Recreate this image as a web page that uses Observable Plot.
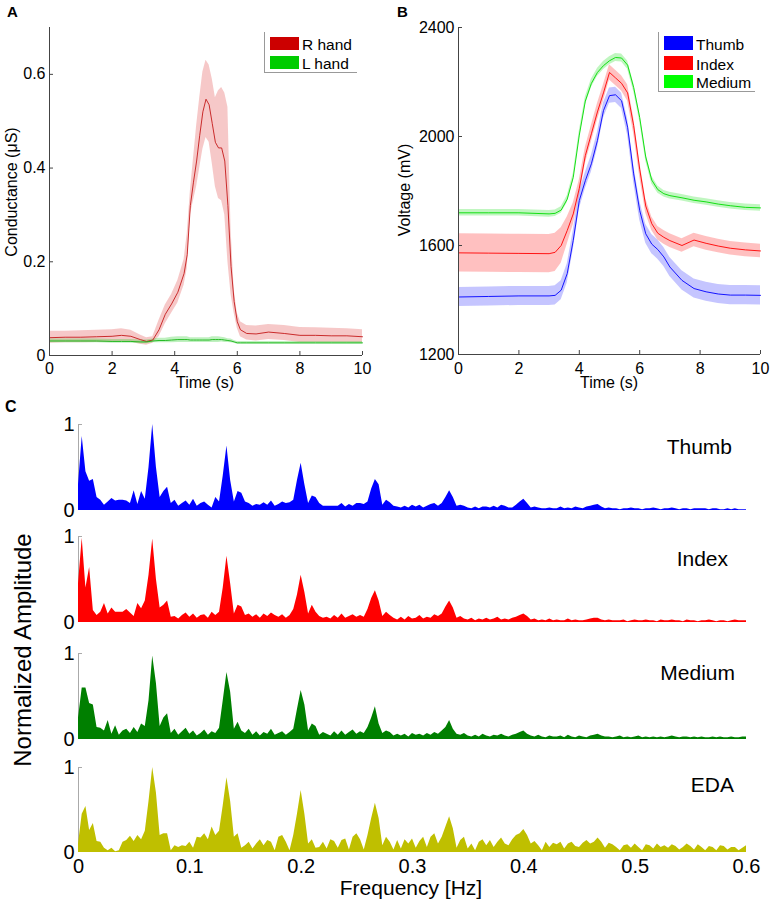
<!DOCTYPE html>
<html>
<head>
<meta charset="utf-8">
<script src="https://cdn.jsdelivr.net/npm/d3@7"></script>
<script src="https://cdn.jsdelivr.net/npm/@observablehq/plot@0.6"></script>
<style>
  body { margin: 0; background: #fff; }
  #root { position: relative; width: 773px; height: 911px; background: #fff; overflow: hidden;
          font-family: "Liberation Sans", Arial, Helvetica, sans-serif; color: #000; }
</style>
</head>
<body>
<div id="root"></div>
<script>
// ---------------- Panel A: skin conductance (mean and spread) ----------------
const timeA = [0,0.5,1,1.5,2,2.3,2.6,2.9,3.1,3.3,3.5,3.7,3.9,4.1,4.3,4.4,4.5,4.6,4.7,4.8,4.9,5.0,5.1,5.2,5.3,5.4,5.5,5.6,5.7,5.8,5.9,6.0,6.1,6.3,6.6,7.0,7.5,8,8.5,9,9.5,10];
const rHandMean = [0.038,0.039,0.039,0.040,0.041,0.043,0.041,0.034,0.030,0.033,0.055,0.088,0.110,0.135,0.175,0.215,0.320,0.370,0.415,0.470,0.520,0.547,0.535,0.495,0.455,0.443,0.443,0.415,0.320,0.190,0.115,0.072,0.055,0.047,0.046,0.050,0.047,0.043,0.043,0.042,0.042,0.040];
const rHandHigh = [0.052,0.052,0.053,0.054,0.055,0.057,0.054,0.044,0.038,0.040,0.075,0.108,0.130,0.160,0.205,0.260,0.350,0.420,0.490,0.550,0.605,0.630,0.620,0.590,0.550,0.565,0.572,0.560,0.530,0.270,0.140,0.090,0.072,0.064,0.063,0.066,0.064,0.060,0.059,0.058,0.057,0.055];
const rHandLow  = [0.026,0.027,0.027,0.028,0.029,0.030,0.029,0.024,0.022,0.026,0.040,0.068,0.090,0.112,0.150,0.185,0.300,0.330,0.360,0.400,0.440,0.465,0.455,0.410,0.360,0.335,0.330,0.300,0.200,0.130,0.090,0.058,0.040,0.033,0.031,0.034,0.032,0.028,0.028,0.028,0.028,0.027];
const lHandMean = [0.031,0.031,0.031,0.031,0.030,0.030,0.030,0.029,0.029,0.031,0.032,0.032,0.033,0.034,0.034,0.034,0.033,0.033,0.033,0.033,0.033,0.033,0.033,0.034,0.034,0.034,0.034,0.033,0.032,0.031,0.029,0.027,0.027,0.027,0.027,0.027,0.027,0.027,0.027,0.027,0.027,0.027];
const lHandSpread = [0.004,0.004,0.004,0.004,0.004,0.004,0.004,0.004,0.004,0.004,0.005,0.005,0.006,0.006,0.006,0.006,0.005,0.005,0.005,0.005,0.005,0.005,0.005,0.006,0.006,0.006,0.005,0.005,0.004,0.004,0.003,0.003,0.003,0.003,0.003,0.003,0.003,0.003,0.003,0.003,0.003,0.003];
const ticksAx = [0,2,4,6,8,10];
const ticksAy = [0,0.2,0.4,0.6];

// ---------------- Panel B: finger voltages ----------------
const timeB = [0,1,2,3,3.2,3.4,3.6,3.8,4.0,4.2,4.4,4.6,4.8,5.0,5.2,5.4,5.6,5.8,6.0,6.2,6.4,6.6,6.8,7.0,7.4,7.8,8.2,8.6,9,9.5,10];
const thumbMean  = [1411,1413,1415,1415,1417,1436,1497,1619,1765,1838,1900,1985,2095,2150,2153,2131,2034,1863,1729,1643,1605,1585,1558,1521,1472,1442,1430,1422,1418,1418,1417];
const thumbSd    = [35,35,35,35,35,35,35,35,32,30,30,30,28,28,28,28,30,32,35,35,35,35,35,35,35,35,35,35,35,35,35];
const indexMean  = [1573,1572,1571,1570,1575,1600,1655,1716,1810,1930,2010,2090,2160,2235,2215,2195,2160,2040,1880,1745,1680,1645,1630,1618,1600,1620,1608,1598,1590,1584,1580];
const indexSd    = [70,70,70,70,70,65,50,40,30,30,30,30,30,28,28,28,30,30,28,27,25,25,25,25,25,25,25,25,25,25,25];
const mediumMean = [1720,1720,1720,1716,1718,1730,1770,1850,2005,2130,2195,2235,2260,2278,2290,2288,2262,2180,2070,1925,1840,1805,1790,1783,1775,1766,1760,1752,1746,1740,1738];
const mediumSd   = [12,12,12,12,12,12,13,14,15,15,15,15,15,15,15,15,15,15,15,15,14,13,12,12,12,12,12,12,12,12,12];
const ticksBx = [0,2,4,6,8,10];
const ticksBy = [1200,1600,2000,2400];

// ---------------- Panel C: normalized spectra (sampled every 1/300 Hz) ----------------
const freqStep = 1/300;
const specThumb = [
 0.30,0.86,0.45,0.34,0.36,0.15,0.12,0.06,0.10,0.14,0.11,0.12,0.12,0.11,0.08,0.23,0.07,0.22,0.13,0.50,
 1.00,0.50,0.15,0.22,0.27,0.08,0.12,0.05,0.08,0.11,0.06,0.13,0.05,0.08,0.10,0.06,0.03,0.15,0.10,0.40,
 0.75,0.35,0.10,0.22,0.20,0.10,0.08,0.05,0.07,0.06,0.09,0.06,0.11,0.05,0.07,0.10,0.08,0.09,0.12,0.35,
 0.55,0.30,0.08,0.17,0.15,0.08,0.05,0.05,0.05,0.05,0.05,0.08,0.04,0.07,0.05,0.08,0.08,0.07,0.10,0.25,
 0.36,0.30,0.06,0.12,0.09,0.05,0.04,0.03,0.05,0.03,0.06,0.04,0.06,0.03,0.05,0.07,0.08,0.05,0.08,0.15,
 0.23,0.15,0.05,0.06,0.05,0.03,0.02,0.04,0.02,0.04,0.04,0.03,0.05,0.03,0.06,0.05,0.03,0.03,0.06,0.10,
 0.13,0.08,0.03,0.04,0.03,0.02,0.02,0.03,0.02,0.02,0.04,0.02,0.03,0.02,0.04,0.03,0.02,0.04,0.05,0.06,
 0.07,0.04,0.02,0.03,0.02,0.02,0.01,0.02,0.02,0.03,0.02,0.02,0.01,0.02,0.02,0.03,0.02,0.01,0.02,0.02,
 0.03,0.02,0.01,0.02,0.02,0.01,0.02,0.02,0.02,0.02,0.01,0.02,0.02,0.01,0.01,0.02,0.01,0.02,0.01,0.01,
 0.01];
const specIndex = [
 0.45,0.98,0.40,0.64,0.14,0.08,0.12,0.22,0.10,0.17,0.12,0.12,0.12,0.15,0.11,0.07,0.22,0.16,0.25,0.55,
 0.97,0.50,0.17,0.20,0.25,0.06,0.07,0.04,0.08,0.11,0.06,0.10,0.05,0.08,0.09,0.05,0.12,0.08,0.12,0.40,
 0.77,0.45,0.10,0.20,0.18,0.08,0.10,0.06,0.09,0.05,0.10,0.07,0.11,0.08,0.06,0.09,0.05,0.08,0.15,0.32,
 0.55,0.35,0.10,0.20,0.12,0.07,0.05,0.06,0.04,0.08,0.05,0.10,0.05,0.07,0.09,0.06,0.08,0.06,0.15,0.28,
 0.37,0.25,0.07,0.12,0.08,0.05,0.03,0.06,0.03,0.07,0.04,0.05,0.08,0.04,0.06,0.05,0.09,0.07,0.10,0.18,
 0.25,0.17,0.05,0.07,0.04,0.03,0.05,0.02,0.04,0.03,0.05,0.03,0.04,0.06,0.03,0.04,0.03,0.05,0.06,0.08,
 0.10,0.07,0.03,0.04,0.02,0.03,0.02,0.04,0.02,0.03,0.02,0.02,0.04,0.02,0.03,0.02,0.02,0.03,0.04,0.05,
 0.05,0.03,0.02,0.03,0.02,0.02,0.02,0.03,0.01,0.02,0.03,0.02,0.02,0.03,0.02,0.02,0.01,0.03,0.02,0.02,
 0.03,0.02,0.02,0.01,0.03,0.02,0.02,0.01,0.02,0.02,0.03,0.02,0.01,0.02,0.02,0.01,0.02,0.03,0.02,0.02,
 0.02];
const specMedium = [
 0.25,0.60,0.60,0.42,0.40,0.14,0.13,0.10,0.22,0.06,0.16,0.05,0.10,0.12,0.07,0.14,0.08,0.18,0.15,0.45,
 0.97,0.65,0.15,0.25,0.30,0.07,0.12,0.05,0.09,0.13,0.06,0.10,0.04,0.07,0.11,0.05,0.09,0.07,0.13,0.45,
 0.78,0.55,0.12,0.20,0.10,0.07,0.12,0.05,0.09,0.04,0.08,0.06,0.12,0.05,0.07,0.09,0.05,0.08,0.12,0.35,
 0.57,0.40,0.10,0.18,0.15,0.05,0.08,0.06,0.04,0.09,0.05,0.10,0.05,0.08,0.11,0.06,0.09,0.07,0.14,0.25,
 0.38,0.18,0.07,0.10,0.08,0.04,0.06,0.04,0.06,0.03,0.07,0.05,0.06,0.04,0.07,0.05,0.08,0.06,0.10,0.14,
 0.22,0.12,0.06,0.05,0.07,0.04,0.03,0.05,0.03,0.06,0.04,0.03,0.05,0.04,0.06,0.04,0.03,0.05,0.06,0.08,
 0.10,0.06,0.04,0.03,0.05,0.03,0.02,0.04,0.03,0.03,0.04,0.02,0.05,0.03,0.02,0.04,0.03,0.02,0.04,0.05,
 0.06,0.04,0.03,0.03,0.02,0.03,0.04,0.02,0.03,0.02,0.03,0.04,0.02,0.03,0.02,0.03,0.02,0.03,0.02,0.03,
 0.04,0.03,0.02,0.03,0.03,0.02,0.03,0.02,0.03,0.02,0.02,0.03,0.02,0.03,0.02,0.02,0.03,0.02,0.02,0.03,
 0.03];
const specEDA = [
 0.10,0.45,0.54,0.26,0.34,0.13,0.12,0.05,0.02,0.05,0.01,0.02,0.12,0.14,0.19,0.13,0.20,0.15,0.25,0.60,
 1.00,0.70,0.20,0.22,0.22,0.02,0.08,0.06,0.08,0.07,0.12,0.05,0.18,0.17,0.22,0.15,0.30,0.20,0.25,0.55,
 0.88,0.60,0.18,0.22,0.05,0.08,0.12,0.04,0.10,0.15,0.08,0.14,0.12,0.02,0.18,0.20,0.12,0.02,0.20,0.45,
 0.73,0.45,0.10,0.15,0.05,0.06,0.12,0.04,0.15,0.13,0.05,0.14,0.16,0.03,0.18,0.22,0.15,0.03,0.20,0.40,
 0.58,0.40,0.08,0.18,0.12,0.03,0.14,0.04,0.15,0.10,0.16,0.05,0.13,0.18,0.06,0.18,0.22,0.10,0.18,0.30,
 0.42,0.28,0.05,0.14,0.18,0.04,0.10,0.02,0.12,0.15,0.08,0.14,0.06,0.12,0.17,0.10,0.08,0.15,0.20,0.22,
 0.27,0.20,0.10,0.13,0.08,0.02,0.12,0.06,0.11,0.09,0.12,0.04,0.10,0.12,0.07,0.06,0.11,0.14,0.10,0.12,
 0.17,0.12,0.05,0.11,0.09,0.06,0.02,0.08,0.09,0.05,0.10,0.06,0.02,0.09,0.08,0.04,0.10,0.06,0.08,0.05,
 0.09,0.07,0.03,0.06,0.10,0.07,0.03,0.09,0.06,0.02,0.07,0.06,0.02,0.08,0.07,0.03,0.06,0.06,0.02,0.05,
 0.08];
const ticksCx = [0,0.1,0.2,0.3,0.4,0.5,0.6];
const ticksCy = [0,1];

// ---------------- layout ----------------
const root = document.getElementById("root");
const FONT = '"Liberation Sans", Arial, Helvetica, sans-serif';
function place(node, left, top) {
  node.style.position = "absolute";
  node.style.left = left + "px";
  node.style.top = top + "px";
  root.appendChild(node);
}
const fmt = v => String(v);

// Panel A
{
  const w = 380, h = 390, ml = 49, mr = 18, mt = 27, mb = 35;
  const fw = w - ml - mr, fh = h - mt - mb;
  const d = timeA.map((t, i) => ({
    t, rm: rHandMean[i], rlo: rHandLow[i], rhi: rHandHigh[i],
    lm: lHandMean[i], llo: lHandMean[i] - lHandSpread[i], lhi: lHandMean[i] + lHandSpread[i]
  }));
  const p = Plot.plot({
    width: w, height: h, marginLeft: ml, marginRight: mr, marginTop: mt, marginBottom: mb,
    style: {fontFamily: FONT, fontSize: "16px", color: "#000", background: "transparent", overflow: "visible"},
    x: {domain: [0, 10]},
    y: {domain: [0, 0.7]},
    marks: [
      Plot.areaY(d, {x: "t", y1: "rlo", y2: "rhi", fill: "#e03a3a", fillOpacity: 0.28}),
      Plot.areaY(d, {x: "t", y1: "llo", y2: "lhi", fill: "#38d038", fillOpacity: 0.32}),
      Plot.lineY(d, {x: "t", y: "rm", stroke: "#c41a1a", strokeWidth: 0.9}),
      Plot.lineY(d, {x: "t", y: "lm", stroke: "#14b414", strokeWidth: 0.9}),
      Plot.ruleX([0], {stroke: "#444"}),
      Plot.ruleY([0], {stroke: "#444"}),
      Plot.gridX({ticks: ticksAx, stroke: "#444", strokeOpacity: 1, insetTop: fh - 4}),
      Plot.gridY({ticks: ticksAy, stroke: "#444", strokeOpacity: 1, insetRight: fw - 4}),
      Plot.axisX({ticks: ticksAx, tickSize: 0, tickPadding: 7, label: null, tickFormat: fmt}),
      Plot.axisY({ticks: ticksAy, tickSize: 0, tickPadding: 4, label: null, tickFormat: fmt})
    ]
  });
  place(p, 0, 0);
}

// Panel B
{
  const w = 393, h = 390, ml = 78, mr = 13, mt = 27, mb = 36;
  const fw = w - ml - mr, fh = h - mt - mb;
  const series = [
    {name: "Thumb", mean: thumbMean, sd: thumbSd, band: "#4040ff", line: "#0000ff"},
    {name: "Index", mean: indexMean, sd: indexSd, band: "#ff3030", line: "#ff0000"},
    {name: "Medium", mean: mediumMean, sd: mediumSd, band: "#30e030", line: "#00dd00"}
  ];
  const rows = series.flatMap(s => timeB.map((t, i) => ({
    name: s.name, t, m: s.mean[i], lo: s.mean[i] - s.sd[i], hi: s.mean[i] + s.sd[i]
  })));
  const marks = [];
  for (const s of series) {
    const d = rows.filter(r => r.name === s.name);
    marks.push(Plot.areaY(d, {x: "t", y1: "lo", y2: "hi", fill: s.band, fillOpacity: 0.3}));
  }
  for (const s of series) {
    const d = rows.filter(r => r.name === s.name);
    marks.push(Plot.lineY(d, {x: "t", y: "m", stroke: s.line, strokeWidth: 0.9}));
  }
  const p = Plot.plot({
    width: w, height: h, marginLeft: ml, marginRight: mr, marginTop: mt, marginBottom: mb,
    style: {fontFamily: FONT, fontSize: "16px", color: "#000", background: "transparent", overflow: "visible"},
    x: {domain: [0, 10]},
    y: {domain: [1200, 2400]},
    marks: [
      ...marks,
      Plot.ruleX([0], {stroke: "#444"}),
      Plot.ruleY([1200], {stroke: "#444"}),
      Plot.gridX({ticks: ticksBx, stroke: "#444", strokeOpacity: 1, insetTop: fh - 4}),
      Plot.gridY({ticks: ticksBy, stroke: "#444", strokeOpacity: 1, insetRight: fw - 4}),
      Plot.axisX({ticks: ticksBx, tickSize: 0, tickPadding: 8, label: null, tickFormat: fmt}),
      Plot.axisY({ticks: ticksBy, tickSize: 0, tickPadding: 4, label: null, tickFormat: fmt})
    ]
  });
  place(p, 380, 0);
}

// Panel C
const specPanels = [
  {name: "Thumb",  values: specThumb,  color: "#0000ff", top: 424, bottom: 510, labelX: 732, labelY: 454},
  {name: "Index",  values: specIndex,  color: "#ff0000", top: 536, bottom: 622, labelX: 728, labelY: 566},
  {name: "Medium", values: specMedium, color: "#007f00", top: 653, bottom: 739, labelX: 735, labelY: 680},
  {name: "EDA",    values: specEDA,    color: "#bfbf00", top: 767, bottom: 852, labelX: 734, labelY: 792}
];
specPanels.forEach((s, k) => {
  const last = k === specPanels.length - 1;
  const ml = 78, mr = 27, mt = 12, mb = last ? 34 : 12;
  const fh = s.bottom - s.top;
  const fw = 773 - ml - mr;
  const d = s.values.map((v, i) => ({f: i * freqStep, v}));
  const marks = [
    Plot.ruleX([0], {y1: 0, y2: 1, stroke: "#aaa"}),
    Plot.gridY({ticks: [1], stroke: "#aaa", strokeOpacity: 1, insetRight: fw - 4}),
    Plot.areaY(d, {x: "f", y: "v", fill: s.color}),
    Plot.axisY({ticks: ticksCy, tickSize: 0, tickPadding: 4, label: null, tickFormat: fmt})
  ];
  if (last) marks.push(Plot.axisX({ticks: ticksCx, tickSize: 0, tickPadding: 6, label: null, tickFormat: fmt}));
  const p = Plot.plot({
    width: 773, height: fh + mt + mb, marginLeft: ml, marginRight: mr, marginTop: mt, marginBottom: mb,
    style: {fontFamily: FONT, fontSize: "20px", color: "#000", background: "transparent", overflow: "visible"},
    x: {domain: [0, 0.6], axis: last ? undefined : null},
    y: {domain: [0, 1]},
    marks
  });
  place(p, 0, s.top - mt);
});

// ---------------- text overlay: panel letters, axis titles, legends ----------------
const ov = d3.create("svg").attr("width", 773).attr("height", 911)
  .style("position", "absolute").style("left", "0px").style("top", "0px")
  .style("pointer-events", "none").style("font-family", FONT);

function txt(x, y, s, size, opts = {}) {
  const t = ov.append("text").attr("x", x).attr("y", y).attr("font-size", size).attr("fill", "#000").text(s);
  if (opts.anchor) t.attr("text-anchor", opts.anchor);
  if (opts.bold) t.attr("font-weight", "bold");
  if (opts.rotate) t.attr("transform", `rotate(-90 ${x} ${y})`);
  return t;
}

txt(7, 17, "A", 15, {bold: true});
txt(397, 17, "B", 15, {bold: true});
txt(5, 412, "C", 16, {bold: true});

txt(205, 388, "Time (s)", 16, {anchor: "middle"});
txt(609, 388, "Time (s)", 16, {anchor: "middle"});
txt(16.5, 192, "Conductance (\u03BCS)", 16, {anchor: "middle", rotate: true});
txt(409.5, 190, "Voltage (mV)", 16, {anchor: "middle", rotate: true});
txt(31, 650, "Normalized Amplitude", 24, {anchor: "middle", rotate: true});
txt(411, 895, "Frequency [Hz]", 21, {anchor: "middle"});

for (const s of specPanels) txt(s.labelX, s.labelY, s.name, 21, {anchor: "end"});

function legend(x0, x1, y0, y1, items) {
  ov.append("rect").attr("x", x0).attr("y", y0).attr("width", x1 - x0).attr("height", y1 - y0)
    .attr("fill", "#fff").attr("stroke", "none");
  ov.append("line").attr("x1", x0 + 0.5).attr("x2", x0 + 0.5).attr("y1", y0).attr("y2", y1).attr("stroke", "#999");
  ov.append("line").attr("x1", x0).attr("x2", x1).attr("y1", y1 - 0.5).attr("y2", y1 - 0.5).attr("stroke", "#999");
  for (const it of items) {
    ov.append("rect").attr("x", x0 + 6).attr("y", it.y0).attr("width", 29).attr("height", it.y1 - it.y0).attr("fill", it.color);
    txt(x0 + 38, it.base, it.label, 15.5);
  }
}
legend(264, 357, 32, 73, [
  {label: "R hand", color: "#cc0000", y0: 37, y1: 50, base: 50},
  {label: "L hand", color: "#00cc00", y0: 56, y1: 69, base: 69}
]);
legend(658, 755, 32, 92, [
  {label: "Thumb", color: "#0000ff", y0: 36, y1: 50, base: 50},
  {label: "Index", color: "#ff0000", y0: 56, y1: 70, base: 70},
  {label: "Medium", color: "#00ff00", y0: 75, y1: 88, base: 88}
]);

root.appendChild(ov.node());
</script>
</body>
</html>
